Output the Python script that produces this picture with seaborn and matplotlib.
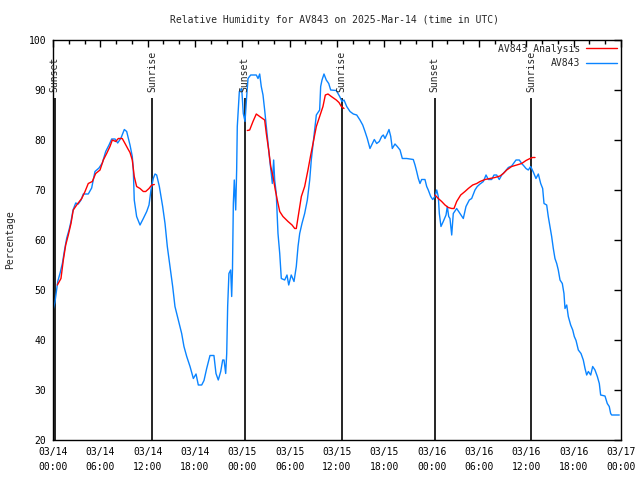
import numpy as np
import pandas as pd
import seaborn as sns
import matplotlib.pyplot as plt
from matplotlib.lines import Line2D
from matplotlib.ticker import MultipleLocator

# hours since 03/14 00:00 UTC and relative humidity (%) for the station
obs_hours = [0.04, 0.25, 0.6, 0.9, 1.2, 1.43, 1.74, 2.03, 2.28, 2.54, 2.88, 3.2, 3.55, 3.84, 4.47, 4.9,
             5.32, 5.83, 6.25, 6.68, 7.1, 7.44, 7.86, 8.2, 8.62, 9.04, 9.34, 9.76, 10.05, 10.18, 10.3,
             10.6, 11.03, 11.45, 11.88, 12.17, 12.42, 12.71, 12.93, 13.14, 13.48, 13.9, 14.2, 14.49,
             14.83, 15.17, 15.46, 15.89, 16.31, 16.6, 16.95, 17.37, 17.79, 18.13, 18.42, 18.85, 19.14,
             19.48, 19.9, 20.4, 20.66, 20.95, 21.26, 21.51, 21.68, 21.89, 22.02, 22.14, 22.3, 22.52,
             22.65, 22.75, 22.86, 22.98, 23.16, 23.28, 23.36, 23.62, 23.92, 24.12, 24.34, 24.55, 24.72,
             25.06, 25.77, 25.99, 26.2, 26.4, 26.62, 26.83, 27.04, 27.25, 27.47, 27.67, 27.8, 27.97,
             28.1, 28.3, 28.52, 28.74, 28.94, 29.37, 29.66, 29.88, 30.2, 30.55, 30.84, 31.06, 31.27,
             31.56, 31.9, 32.24, 32.54, 32.74, 33.08, 33.38, 33.8, 33.93, 34.1, 34.35, 34.64, 34.95,
             35.2, 35.91, 36.34, 36.63, 36.89, 37.23, 37.65, 38.07, 38.5, 38.91, 39.26, 39.55, 39.84,
             40.18, 40.48, 40.73, 41.03, 41.36, 41.66, 41.87, 42.08, 42.38, 42.59, 42.81, 43.01, 43.35,
             43.64, 43.99, 44.28, 44.83, 45.67, 45.89, 46.1, 46.31, 46.52, 46.73, 47.15, 47.37, 47.57,
             47.88, 48.13, 48.42, 48.64, 48.84, 48.97, 49.18, 49.47, 49.82, 49.98, 50.16, 50.32, 50.54,
             50.74, 51.17, 51.59, 52.01, 52.35, 52.77, 53.07, 53.49, 53.78, 54.13, 54.55, 54.89, 55.18,
             55.61, 55.9, 56.24, 56.57, 56.88, 57.3, 57.72, 58.14, 58.69, 59.11, 59.41, 59.7, 59.96,
             60.25, 60.55, 60.88, 61.22, 61.52, 61.82, 62.07, 62.24, 62.58, 62.78, 63.0, 63.21, 63.42,
             63.63, 63.85, 64.05, 64.27, 64.56, 64.77, 64.9, 65.12, 65.32, 65.62, 65.88, 66.08, 66.3,
             66.59, 66.93, 67.22, 67.44, 67.65, 67.86, 68.16, 68.41, 68.7, 69.0, 69.25, 69.42, 69.97,
             70.26, 70.51, 70.69, 70.82, 71.78]
obs_rh = [46.2, 47.6, 51.7, 53.4, 55.4, 57.7, 60.4, 62, 63.7, 66, 67.4, 67.2, 68, 69.2, 69.2, 70.4,
          73.7, 74.4, 75.4, 77.7, 79, 80.2, 80.2, 79.4, 80.4, 82.1, 81.7, 79, 76.7, 74, 68,
          64.7, 63, 64.3, 65.7, 67, 70, 72.3, 73.2, 73, 70.7, 66.7, 63.3, 58.7,
          54.7, 50.7, 46.7, 44, 41.3, 38.7, 36.7, 34.7, 32.3, 33.2, 31, 31, 31.9,
          34.3, 36.9, 36.9, 33.3, 32, 33.7, 36, 36, 33.3, 37.3, 46.7, 53.3, 54,
          48.7, 54, 67.3, 72, 66, 74, 82.7, 89.7, 90.3, 85.3, 83.7, 88.7, 92.3,
          93, 93, 92.3, 93.2, 90.7, 89, 86, 82.7, 79.3, 76, 73.3, 71.3, 76,
          72, 69.3, 61.3, 57.3, 52.3, 52, 53, 51, 53, 51.7, 54.7, 58.7, 61.3,
          63.3, 65.3, 68, 72, 76, 80.7, 85, 86, 90.7, 92, 93.2, 92, 91.3,
          90, 89.9, 88.7, 87.7, 88, 86.7, 85.7, 85.2, 85, 84, 83, 81.7, 80.3,
          78.3, 79.3, 80.1, 79.3, 79.7, 80.7, 81, 80.3, 81.3, 82.1, 80.7, 78.3, 79.2,
          78.7, 78, 76.3, 76.3, 76.1, 75, 73.7, 72.3, 71.3, 72.1, 72.1, 70.7, 70,
          68.7, 68.1, 68.7, 70, 68.7, 65.3, 62.7, 63.7, 65, 66.7, 64.7, 64.3, 61,
          65.3, 66.3, 65.3, 64.3, 66.7, 68, 68.3, 70, 70.7, 71.2, 71.7, 73, 72.1,
          72.1, 73, 73, 72.1, 73, 73.7, 74.5, 74.8, 76, 76, 75.3, 74.8, 74.3,
          74, 74.7, 73.6, 72.3, 73.2, 71.3, 70.3, 67.3, 67, 64.7, 62.7, 60.7, 58.3,
          56.3, 55.3, 54, 52, 51.3, 49.3, 46.3, 47, 44.7, 43, 42, 40.7, 39.9,
          38, 37.3, 36, 34.3, 33, 33.7, 33, 34.7, 34, 32.7, 31.3, 29, 28.8,
          27.3, 26.7, 25.3, 25, 25]

# analysis, three separate night-time runs
ana1_hours = [0.55, 1.01, 1.31, 1.61, 1.94, 2.28, 2.57, 3.0, 3.64, 4.06, 4.47, 4.98, 5.41, 5.96, 6.38,
              6.8, 7.22, 7.52, 7.95, 8.28, 8.78, 9.13, 9.47, 9.76, 10.05, 10.3, 10.6, 11.03, 11.45,
              11.75, 12.17, 12.51, 12.84]
ana1_rh = [51, 52.3, 56, 59, 61, 63.3, 66, 67, 68.3, 69.7, 71.3, 71.7, 73.3, 74, 76,
           77.3, 78.7, 80, 79.7, 80.3, 80.3, 79.3, 78.3, 77.5, 76, 72.7, 70.7, 70.3, 69.7,
           69.7, 70.3, 71, 71.1]
ana2_hours = [24.63, 24.93, 25.35, 25.77, 26.2, 26.83, 27.04, 27.34, 27.6, 27.89, 28.18, 28.43, 28.74,
              29.15, 29.79, 30.3, 30.64, 30.84, 31.14, 31.48, 31.9, 32.32, 32.67, 32.96, 33.38,
              33.8, 34.22, 34.52, 34.86, 35.28, 35.91, 36.25, 36.55, 36.89]
ana2_rh = [81.9, 82, 83.7, 85.2, 84.7, 84, 81.3, 78, 74.7, 72.7, 70, 68, 65.7,
           64.7, 63.7, 63, 62.3, 62.3, 65.3, 68.7, 70.7, 74, 77, 79.3, 82.7,
           84.7, 86.7, 89, 89.2, 88.7, 88, 87.5, 86.7, 86.3]
ana3_hours = [48.42, 48.84, 49.27, 49.69, 50.11, 50.54, 50.83, 51.17, 51.68, 52.22, 52.64, 53.2, 53.71,
              54.13, 54.76, 55.39, 56.03, 56.66, 57.08, 57.51, 58.14, 58.78, 59.41, 59.96, 60.46,
              60.8, 61.1]
ana3_rh = [69, 68.3, 67.7, 67, 66.5, 66.3, 66.3, 67.7, 69, 69.7, 70.3, 71, 71.3,
           71.7, 72.1, 72.3, 72.5, 72.8, 73.3, 74, 74.7, 75, 75.3, 75.9, 76.3,
           76.5, 76.5]

sun_hours = [0.2, 12.55, 24.3, 36.6, 48.4, 60.6]
sun_labels = ["Sunset", "Sunrise", "Sunset", "Sunrise", "Sunset", "Sunrise"]

tick_hours = [0, 6, 12, 18, 24, 30, 36, 42, 48, 54, 60, 66, 72]
tick_labels = ["03/14\n00:00", "03/14\n06:00", "03/14\n12:00", "03/14\n18:00",
               "03/15\n00:00", "03/15\n06:00", "03/15\n12:00", "03/15\n18:00",
               "03/16\n00:00", "03/16\n06:00", "03/16\n12:00", "03/16\n18:00",
               "03/17\n00:00"]

sns.set_style("white")
plt.rcParams["font.family"] = ["DejaVu Sans Mono", "DejaVu Sans"]
plt.rcParams["font.size"] = 7

red = "#ff0000"
blue = "#0a84ff"

obs = pd.DataFrame({"hour": obs_hours, "rh": obs_rh})
ana = pd.concat([
    pd.DataFrame({"hour": ana1_hours, "rh": ana1_rh, "seg": 1}),
    pd.DataFrame({"hour": ana2_hours, "rh": ana2_rh, "seg": 2}),
    pd.DataFrame({"hour": ana3_hours, "rh": ana3_rh, "seg": 3}),
])

fig = plt.figure(figsize=(6.4, 4.8), dpi=100)
ax = fig.add_axes([53 / 640, 40 / 480, 568 / 640, 400 / 480])

# sunrise / sunset markers
for h, lab in zip(sun_hours, sun_labels):
    ax.vlines(h, 20, 88.4, color="black", lw=1.2, zorder=1)
    ax.text(h, 89.6, lab, rotation=90, ha="center", va="bottom", fontsize=7)

sns.lineplot(data=obs, x="hour", y="rh", color=blue, lw=1.0, ax=ax, zorder=2)
sns.lineplot(data=ana, x="hour", y="rh", units="seg", estimator=None, color=red, lw=1.0,
             ax=ax, zorder=3)

ax.set_xlim(0, 72)
ax.set_ylim(20, 100)
ax.set_xticks(tick_hours)
ax.set_xticklabels(tick_labels, linespacing=1.6)
ax.xaxis.set_minor_locator(MultipleLocator(2))
ax.set_yticks(range(20, 101, 10))
ax.tick_params(which="both", direction="in", top=True, right=True, colors="black")
ax.tick_params(which="major", length=5, width=1, pad=5)
ax.tick_params(which="minor", length=3, width=1)
ax.set_xlabel("")
ax.set_ylabel("")
for sp in ax.spines.values():
    sp.set_color("black")
    sp.set_linewidth(1.0)

handles = [Line2D([], [], color=red, lw=1.0), Line2D([], [], color=blue, lw=1.0)]
ax.legend(handles, ["AV843 Analysis", "AV843"], loc="upper right", frameon=False,
          markerfirst=False, handlelength=3.2, handletextpad=0.6, labelspacing=0.45,
          borderaxespad=0.3, borderpad=0.1, fontsize=7)

fig.text(335 / 640, 1 - 20 / 480, "Relative Humidity for AV843 on 2025-Mar-14 (time in UTC)",
         ha="center", va="center", fontsize=7)
fig.text(10 / 640, 0.5, "Percentage", rotation=90, ha="center", va="center", fontsize=7)

fig.savefig("out.png", dpi=100)
